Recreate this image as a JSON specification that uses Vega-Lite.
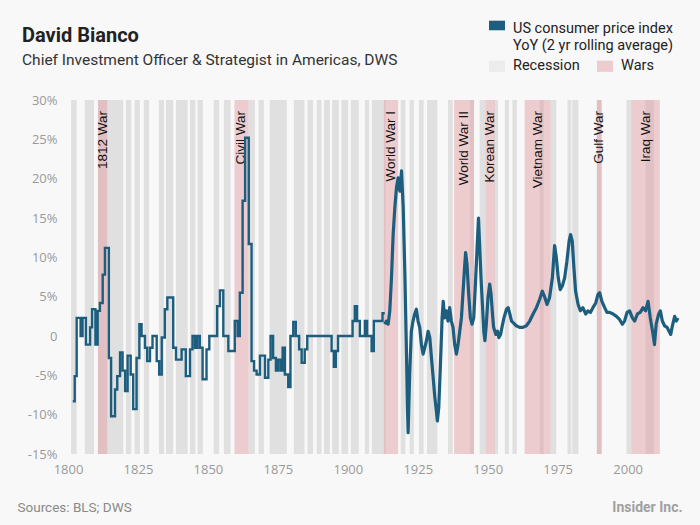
{
  "$schema": "https://vega.github.io/schema/vega-lite/v6.json",
  "width": 610,
  "height": 354,
  "autosize": {"type": "none"},
  "padding": {"left": 68, "top": 100, "right": 22, "bottom": 71},
  "background": "#f8f8f8",
  "title": {
    "text": "David Bianco",
    "subtitle": "Chief Investment Officer & Strategist in Americas, DWS",
    "anchor": "start",
    "frame": "group",
    "dx": -46,
    "offset": -47,
    "font": "Roboto",
    "fontSize": 20,
    "fontWeight": "bold",
    "color": "#222222",
    "subtitleFont": "Roboto",
    "subtitleFontSize": 15.5,
    "subtitleColor": "#333333",
    "subtitlePadding": 7
  },
  "datasets": {
    "recessions": [
      {"start": 1801.1, "end": 1803.1}, {"start": 1806.0, "end": 1809.3}, {"start": 1810.7, "end": 1819.75},
      {"start": 1820.7, "end": 1822.6}, {"start": 1823.8, "end": 1825.7}, {"start": 1827.1, "end": 1829.0},
      {"start": 1832.5, "end": 1834.3}, {"start": 1835.0, "end": 1837.6}, {"start": 1838.6, "end": 1842.75},
      {"start": 1843.6, "end": 1845.5}, {"start": 1846.3, "end": 1848.2}, {"start": 1852.1, "end": 1854.0},
      {"start": 1855.7, "end": 1858.1}, {"start": 1864.5, "end": 1866.8}, {"start": 1868.1, "end": 1870.0},
      {"start": 1872.1, "end": 1878.2}, {"start": 1880.7, "end": 1884.5}, {"start": 1885.6, "end": 1887.6},
      {"start": 1888.9, "end": 1890.6}, {"start": 1891.5, "end": 1893.6}, {"start": 1894.4, "end": 1896.8},
      {"start": 1897.7, "end": 1900.1}, {"start": 1901.1, "end": 1903.9}, {"start": 1906.1, "end": 1907.6},
      {"start": 1908.6, "end": 1913.5}, {"start": 1918.9, "end": 1920.6}, {"start": 1922.1, "end": 1923.6},
      {"start": 1925.4, "end": 1927.1}, {"start": 1928.3, "end": 1932.0}, {"start": 1935.8, "end": 1937.5},
      {"start": 1943.6, "end": 1945.1}, {"start": 1947.1, "end": 1949.2}, {"start": 1952.3, "end": 1953.7},
      {"start": 1956.1, "end": 1957.6}, {"start": 1958.8, "end": 1960.4}, {"start": 1968.6, "end": 1970.0},
      {"start": 1972.4, "end": 1974.5}, {"start": 1978.5, "end": 1979.9}, {"start": 1980.2, "end": 1982.4},
      {"start": 1989.0, "end": 1990.7}, {"start": 1999.6, "end": 2001.3}, {"start": 2006.4, "end": 2009.4}
    ],
    "wars": [
      {"label": "1812 War", "start": 1810.7, "end": 1814.0},
      {"label": "Civil War", "start": 1859.5, "end": 1864.5},
      {"label": "World War I", "start": 1912.9, "end": 1918.0},
      {"label": "World War II", "start": 1938.0, "end": 1945.1},
      {"label": "Korean War", "start": 1949.2, "end": 1952.5},
      {"label": "Vietnam War", "start": 1963.2, "end": 1972.4},
      {"label": "Gulf War", "start": 1989.0, "end": 1990.7},
      {"label": "Iraq War", "start": 2001.3, "end": 2011.5}
    ],
    "cpi_annual": [
      {"year": 1801.7, "value": -8.3}, {"year": 1802.4, "value": -5.1}, {"year": 1803.1, "value": 2.3},
      {"year": 1804.5, "value": 0}, {"year": 1805.2, "value": 2.3}, {"year": 1806.4, "value": -1.1},
      {"year": 1807.9, "value": 1.1}, {"year": 1808.6, "value": 3.4}, {"year": 1809.8, "value": -1.1},
      {"year": 1810.6, "value": 3.2}, {"year": 1811.4, "value": 4.2}, {"year": 1812.4, "value": 7.8},
      {"year": 1813.2, "value": 11.2}, {"year": 1814.6, "value": -2.8}, {"year": 1815.4, "value": -10.2},
      {"year": 1816.8, "value": -6.8}, {"year": 1817.6, "value": -5.1}, {"year": 1818.6, "value": -2.1},
      {"year": 1819.5, "value": -4.4}, {"year": 1820.4, "value": -7.0}, {"year": 1821.3, "value": -2.5},
      {"year": 1822.4, "value": -4.9}, {"year": 1823.3, "value": -9.3}, {"year": 1824.5, "value": -2.8},
      {"year": 1825.5, "value": 1.5}, {"year": 1826.3, "value": 0}, {"year": 1827.5, "value": -1.5},
      {"year": 1828.3, "value": -3.2}, {"year": 1829.3, "value": -1.5}, {"year": 1830.2, "value": 0},
      {"year": 1831.7, "value": -3.2}, {"year": 1832.6, "value": -4.9}, {"year": 1833.5, "value": -0.2},
      {"year": 1834.6, "value": 3.4}, {"year": 1835.5, "value": 4.9}, {"year": 1837.6, "value": -1.5},
      {"year": 1838.6, "value": -3.0}, {"year": 1840.6, "value": -1.7}, {"year": 1842.1, "value": -5.1},
      {"year": 1843.6, "value": -1.7}, {"year": 1844.5, "value": 0}, {"year": 1845.4, "value": -1.5},
      {"year": 1846.2, "value": 0}, {"year": 1847.1, "value": -1.5}, {"year": 1848.1, "value": -5.5},
      {"year": 1849.5, "value": -1.7}, {"year": 1850.5, "value": 0}, {"year": 1853.3, "value": 3.8},
      {"year": 1854.3, "value": 5.8}, {"year": 1855.5, "value": 0}, {"year": 1857.3, "value": -1.9},
      {"year": 1859.6, "value": 1.9}, {"year": 1860.6, "value": 0}, {"year": 1861.4, "value": 5.5},
      {"year": 1862.4, "value": 17.2}, {"year": 1863.3, "value": 25.2}, {"year": 1864.6, "value": 11.7},
      {"year": 1865.6, "value": -3.2}, {"year": 1866.5, "value": -4.4}, {"year": 1867.4, "value": -4.9},
      {"year": 1868.6, "value": -2.5}, {"year": 1870.4, "value": -5.3}, {"year": 1871.6, "value": -3.0},
      {"year": 1872.4, "value": 0}, {"year": 1873.3, "value": -2.8}, {"year": 1874.3, "value": -4.4},
      {"year": 1875.1, "value": -3.0}, {"year": 1876.0, "value": -4.4}, {"year": 1876.7, "value": -1.5},
      {"year": 1877.5, "value": -4.9}, {"year": 1878.7, "value": -6.5}, {"year": 1879.5, "value": 0},
      {"year": 1880.5, "value": 1.8}, {"year": 1881.4, "value": 0}, {"year": 1882.6, "value": -1.7},
      {"year": 1883.5, "value": -3.4}, {"year": 1884.6, "value": -1.7}, {"year": 1885.5, "value": 0},
      {"year": 1894.2, "value": -1.9}, {"year": 1895.0, "value": -3.9}, {"year": 1895.7, "value": -1.9},
      {"year": 1896.5, "value": 0}, {"year": 1901.7, "value": 1.9}, {"year": 1902.5, "value": 3.8},
      {"year": 1903.3, "value": 1.9}, {"year": 1904.3, "value": 0}, {"year": 1906.1, "value": 1.9},
      {"year": 1906.9, "value": 0}, {"year": 1908.5, "value": -1.9}, {"year": 1909.3, "value": 1.9},
      {"year": 1912.4, "value": 2.9}, {"year": 1913.2, "value": 2.9}
    ],
    "cpi_monthly": [
      {"year": 1913.2, "value": 1.5}, {"year": 1913.8, "value": 1.9}, {"year": 1914.4, "value": 1.5},
      {"year": 1915.0, "value": 3.2}, {"year": 1915.6, "value": 7.4}, {"year": 1916.2, "value": 12.9},
      {"year": 1916.8, "value": 16.3}, {"year": 1917.4, "value": 18.9}, {"year": 1918.0, "value": 20.1},
      {"year": 1918.6, "value": 18.4}, {"year": 1919.2, "value": 21.0}, {"year": 1919.8, "value": 16.3},
      {"year": 1920.4, "value": 7.8}, {"year": 1921.0, "value": -2.8}, {"year": 1921.3, "value": -9.1},
      {"year": 1921.55, "value": -12.3}, {"year": 1922.1, "value": -4.9}, {"year": 1922.7, "value": 0.6},
      {"year": 1923.3, "value": 1.9}, {"year": 1923.9, "value": 2.8}, {"year": 1924.5, "value": 3.4},
      {"year": 1925.1, "value": 1.9}, {"year": 1925.7, "value": 1.1}, {"year": 1926.3, "value": -1.1},
      {"year": 1926.9, "value": -2.3}, {"year": 1927.5, "value": -1.5}, {"year": 1928.1, "value": -0.6},
      {"year": 1928.7, "value": 0.6}, {"year": 1929.3, "value": -0.2}, {"year": 1929.9, "value": -2.8},
      {"year": 1930.5, "value": -5.3}, {"year": 1931.1, "value": -7.8}, {"year": 1931.7, "value": -9.7},
      {"year": 1932.0, "value": -10.8}, {"year": 1932.5, "value": -9.1}, {"year": 1933.1, "value": -3.6},
      {"year": 1933.7, "value": 2.3}, {"year": 1934.1, "value": 4.4}, {"year": 1934.6, "value": 2.3},
      {"year": 1935.2, "value": 3.2}, {"year": 1935.8, "value": 1.9}, {"year": 1936.4, "value": 3.6},
      {"year": 1937.0, "value": 1.9}, {"year": 1937.6, "value": 1.1}, {"year": 1938.2, "value": -1.1},
      {"year": 1938.8, "value": -2.3}, {"year": 1939.4, "value": -1.1}, {"year": 1940.0, "value": 0.6},
      {"year": 1940.6, "value": 2.3}, {"year": 1941.2, "value": 5.7}, {"year": 1941.8, "value": 9.1},
      {"year": 1942.1, "value": 10.6}, {"year": 1942.6, "value": 9.1}, {"year": 1943.2, "value": 5.3},
      {"year": 1943.8, "value": 2.3}, {"year": 1944.4, "value": 1.5}, {"year": 1945.0, "value": 2.3},
      {"year": 1945.6, "value": 6.6}, {"year": 1946.2, "value": 11.2}, {"year": 1946.7, "value": 15.0},
      {"year": 1947.1, "value": 11.7}, {"year": 1947.6, "value": 7.4}, {"year": 1948.1, "value": 4.0},
      {"year": 1948.6, "value": 0.6}, {"year": 1949.0, "value": -0.6}, {"year": 1949.5, "value": 1.5},
      {"year": 1950.1, "value": 4.9}, {"year": 1950.7, "value": 6.6}, {"year": 1951.2, "value": 5.3},
      {"year": 1951.7, "value": 2.8}, {"year": 1952.1, "value": 1.1}, {"year": 1952.9, "value": 0.2},
      {"year": 1953.5, "value": 0.6}, {"year": 1954.0, "value": -0.2}, {"year": 1954.6, "value": 0.2},
      {"year": 1955.2, "value": 1.3}, {"year": 1955.8, "value": 2.3}, {"year": 1956.7, "value": 3.4},
      {"year": 1957.3, "value": 3.6}, {"year": 1957.9, "value": 2.8}, {"year": 1958.5, "value": 1.9},
      {"year": 1959.1, "value": 1.7}, {"year": 1960.2, "value": 1.3}, {"year": 1961.4, "value": 1.1},
      {"year": 1962.6, "value": 1.1}, {"year": 1963.8, "value": 1.3}, {"year": 1965.0, "value": 1.9},
      {"year": 1966.2, "value": 2.8}, {"year": 1967.4, "value": 3.6}, {"year": 1968.6, "value": 4.7},
      {"year": 1969.5, "value": 5.7}, {"year": 1970.4, "value": 4.9}, {"year": 1971.2, "value": 4.0},
      {"year": 1972.1, "value": 4.9}, {"year": 1973.1, "value": 7.4}, {"year": 1973.9, "value": 11.5},
      {"year": 1974.5, "value": 10.0}, {"year": 1975.2, "value": 7.4}, {"year": 1975.9, "value": 5.9},
      {"year": 1976.7, "value": 6.4}, {"year": 1977.5, "value": 7.4}, {"year": 1978.3, "value": 9.5},
      {"year": 1979.1, "value": 12.1}, {"year": 1979.6, "value": 12.9}, {"year": 1980.2, "value": 12.1},
      {"year": 1980.8, "value": 8.7}, {"year": 1981.4, "value": 5.7}, {"year": 1982.3, "value": 4.0},
      {"year": 1983.1, "value": 3.2}, {"year": 1984.0, "value": 3.6}, {"year": 1985.0, "value": 2.8},
      {"year": 1985.8, "value": 3.2}, {"year": 1986.7, "value": 3.0}, {"year": 1987.6, "value": 3.6},
      {"year": 1988.6, "value": 4.2}, {"year": 1989.4, "value": 5.3}, {"year": 1990.0, "value": 5.5},
      {"year": 1990.8, "value": 4.4}, {"year": 1991.8, "value": 3.6}, {"year": 1992.6, "value": 3.0},
      {"year": 1993.6, "value": 3.0}, {"year": 1994.8, "value": 2.8}, {"year": 1996.0, "value": 2.5},
      {"year": 1997.1, "value": 2.1}, {"year": 1998.1, "value": 1.5}, {"year": 1998.9, "value": 1.9},
      {"year": 1999.8, "value": 3.0}, {"year": 2000.7, "value": 3.2}, {"year": 2001.7, "value": 2.3},
      {"year": 2002.5, "value": 1.9}, {"year": 2003.5, "value": 2.8}, {"year": 2004.5, "value": 3.0},
      {"year": 2005.5, "value": 3.6}, {"year": 2006.4, "value": 3.2}, {"year": 2007.3, "value": 4.4},
      {"year": 2008.1, "value": 2.3}, {"year": 2009.1, "value": 0.2}, {"year": 2009.6, "value": -1.1},
      {"year": 2010.2, "value": 1.5}, {"year": 2011.1, "value": 2.8}, {"year": 2011.7, "value": 3.2},
      {"year": 2012.4, "value": 1.9}, {"year": 2013.2, "value": 1.3}, {"year": 2014.1, "value": 1.1},
      {"year": 2014.8, "value": 0.6}, {"year": 2015.4, "value": 0.2}, {"year": 2016.0, "value": 1.3},
      {"year": 2016.8, "value": 2.5}, {"year": 2017.4, "value": 1.9}, {"year": 2018.0, "value": 2.3}
    ]
  },
  "encoding": {
    "x": {
      "type": "quantitative",
      "scale": {"domain": [1800, 2018], "nice": false, "zero": false},
      "axis": {
        "values": [1800, 1825, 1850, 1875, 1900, 1925, 1950, 1975, 2000],
        "format": "d",
        "domain": false,
        "ticks": false,
        "grid": false,
        "labelFlush": false,
        "labelFont": "Open Sans",
        "labelFontSize": 13,
        "labelColor": "#9a9a9a",
        "labelPadding": 9,
        "title": "Sources: BLS; DWS",
        "titleX": -51,
        "titleY": 53,
        "titleAlign": "left",
        "titleAnchor": "start",
        "titleBaseline": "middle",
        "titleFont": "Roboto",
        "titleFontSize": 13.5,
        "titleFontWeight": "normal",
        "titleColor": "#8a8a8a"
      }
    },
    "y": {
      "type": "quantitative",
      "scale": {"domain": [-15, 30], "nice": false},
      "axis": {
        "values": [-15, -10, -5, 0, 5, 10, 15, 20, 25, 30],
        "labelExpr": "datum.value == 0 ? '0' : datum.value + '%'",
        "domain": false,
        "ticks": false,
        "grid": false,
        "labelFont": "Open Sans",
        "labelFontSize": 13,
        "labelColor": "#9a9a9a",
        "labelPadding": 11,
        "title": "Insider Inc.",
        "titleAngle": 0,
        "titleX": 614,
        "titleY": 407,
        "titleAlign": "right",
        "titleBaseline": "middle",
        "titleFont": "Roboto",
        "titleFontSize": 14,
        "titleFontWeight": "bold",
        "titleColor": "#a0a0a0"
      }
    }
  },
  "layer": [
    {
      "data": {"name": "recessions"},
      "mark": {"type": "rect"},
      "encoding": {
        "x": {"field": "start", "type": "quantitative"},
        "x2": {"field": "end"},
        "fill": {
          "datum": "Recession",
          "scale": {"domain": ["Recession", "Wars"], "range": ["#e0e0e0", "#e0a0a3"]},
          "legend": {
            "orient": "none",
            "legendX": 421,
            "legendY": -42,
            "title": null,
            "direction": "horizontal",
            "columns": 2,
            "columnPadding": 17,
            "padding": 0,
            "symbolType": "M-1,-0.7H1V0.7H-1Z",
            "symbolSize": 256,
            "symbolStrokeWidth": 0,
            "symbolOpacity": 1,
            "labelFont": "Roboto",
            "labelFontSize": 14.5,
            "labelColor": "#222222",
            "labelOffset": 8
          }
        }
      }
    },
    {
      "data": {"name": "wars"},
      "mark": {"type": "rect", "opacity": 0.5},
      "encoding": {
        "x": {"field": "start", "type": "quantitative"},
        "x2": {"field": "end"},
        "fill": {"datum": "Wars"}
      }
    },
    {
      "mark": {"type": "rule", "color": "#cccccc", "strokeWidth": 1},
      "encoding": {"y": {"datum": 0}}
    },
    {
      "data": {"name": "wars"},
      "transform": [{"calculate": "(datum.start + datum.end) / 2", "as": "mid"}],
      "mark": {
        "type": "text",
        "angle": 270,
        "align": "right",
        "baseline": "middle",
        "font": "Liberation Sans",
        "fontSize": 13.5,
        "color": "#111111"
      },
      "encoding": {
        "x": {"field": "mid", "type": "quantitative"},
        "y": {"datum": 28.6},
        "text": {"field": "label"}
      }
    },
    {
      "data": {"name": "cpi_annual"},
      "mark": {"type": "line", "interpolate": "step-after", "strokeWidth": 2.4},
      "encoding": {
        "x": {"field": "year", "type": "quantitative"},
        "y": {"field": "value", "type": "quantitative"},
        "stroke": {
          "datum": "US consumer price index",
          "scale": {"domain": ["US consumer price index"], "range": ["#1d5e7e"]},
          "legend": {
            "orient": "none",
            "legendX": 421,
            "legendY": -79,
            "title": null,
            "padding": 0,
            "symbolType": "M-1,-1.04H1V0.16H-1Z",
            "symbolSize": 256,
            "symbolFillColor": "#1d5e7e",
            "symbolStrokeWidth": 0,
            "labelExpr": "['US consumer price index', 'YoY (2 yr rolling average)']",
            "labelFont": "Roboto",
            "labelFontSize": 14.5,
            "labelLineHeight": 17,
            "labelColor": "#222222",
            "labelOffset": 8,
            "labelLimit": 300
          }
        }
      }
    },
    {
      "data": {"name": "cpi_monthly"},
      "mark": {"type": "line", "strokeWidth": 3.2, "strokeJoin": "round"},
      "encoding": {
        "x": {"field": "year", "type": "quantitative"},
        "y": {"field": "value", "type": "quantitative"},
        "stroke": {"datum": "US consumer price index"}
      }
    }
  ],
  "config": {
    "view": {"stroke": null},
    "font": "Roboto"
  }
}
